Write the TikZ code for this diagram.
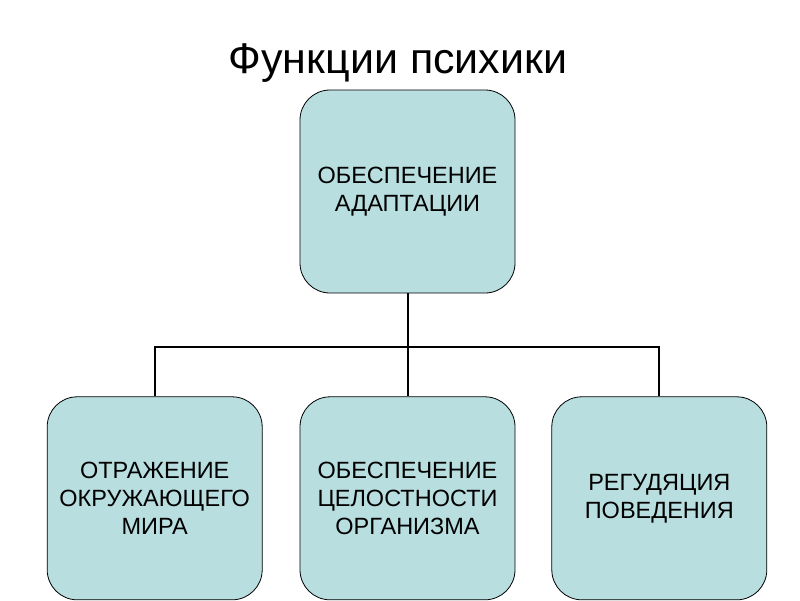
\documentclass[tikz,border=0pt]{standalone}
\usepackage{fontspec}
\setmainfont{Liberation Sans}
\usetikzlibrary{positioning,calc}
\definecolor{boxfill}{RGB}{184,222,224}

\begin{document}
\begin{tikzpicture}[
	func/.style={draw=black, line width=0.8pt, fill=boxfill, rounded corners=30pt,
		minimum width=215pt, minimum height=203pt, align=center,
		font=\fontsize{23.5}{28}\selectfont},
	link/.style={line width=2pt},
	heading/.style={font=\fontsize{43}{44}\selectfont, anchor=base},
	]
	\useasboundingbox (0,0) rectangle (800pt,-600pt);
	\node[heading] (title) at (398pt,-73pt) {Функции психики};
	\node[func] (adapt) at (407.5pt,-191.5pt) {ОБЕСПЕЧЕНИЕ\\АДАПТАЦИИ};
	\node[func, below=103pt of adapt] (whole) {ОБЕСПЕЧЕНИЕ\\ЦЕЛОСТНОСТИ\\ОРГАНИЗМА};
	\node[func, left=37pt of whole] (reflect) {ОТРАЖЕНИЕ\\ОКРУЖАЮЩЕГО\\МИРА};
	\node[func, right=36pt of whole] (regul) {РЕГУДЯЦИЯ\\ПОВЕДЕНИЯ};
	\coordinate (bus) at ($(adapt.south)!0.52!(whole.north)$);

	\draw[link] (adapt.south) -- (whole.north);
	\draw[link] (reflect.north) |- (bus) -| (regul.north);

\end{tikzpicture}
\end{document}
